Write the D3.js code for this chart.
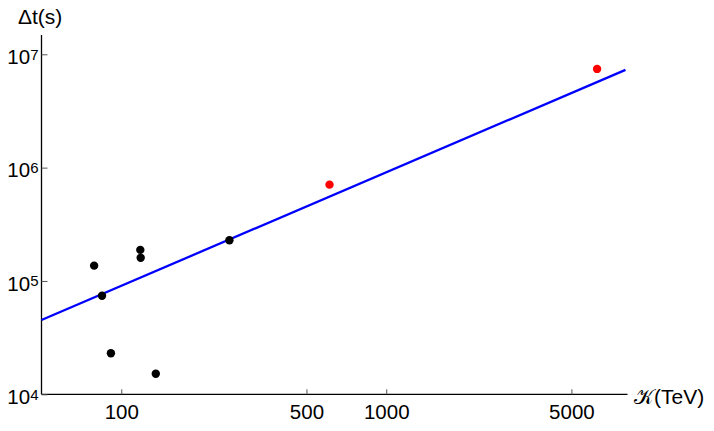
<!DOCTYPE html>
<html>
<head>
<meta charset="utf-8">
<script src="https://cdn.jsdelivr.net/npm/d3@7"></script>
<style>
  body { margin: 0; background: #fff; }
  text { font-family: "Liberation Sans", Arial, sans-serif; fill: #000; }
</style>
</head>
<body>
<div id="chart"></div>
<script>
// Data (K in TeV, delta t in seconds)
const blackK  = [79, 84.6, 91.4, 118, 118.4, 135, 256];
const blackDt = [1.365e5, 7.4e4, 2.3e4, 1.88e5, 1.6e5, 1.52e4, 2.29e5];
const redK    = [611, 6250];
const redDt   = [7.08e5, 7.43e6];
const fitK    = [50, 8000];
const fitDt   = [4.53e4, 7.28e6];
const xTicks  = [100, 500, 1000, 5000];
const yTicks  = [1e4, 1e5, 1e6, 1e7];

const width = 714, height = 431;

const svg = d3.select("#chart").append("svg")
    .attr("width", width)
    .attr("height", height)
    .style("background-color", "#fff");

// scales
const x = d3.scaleLog().domain([50, 8000]).range([41.5, 625.5]);
const y = d3.scaleLog().domain([1e4, 1.48e7]).range([394.3, 35]);

// x axis, ticks pointing up into the plot
const xAxis = svg.append("g")
    .attr("transform", `translate(0,${y(1e4)})`)
    .call(d3.axisBottom(x).tickValues(xTicks).tickSize(-5).tickPadding(10)
        .tickFormat(d3.format("d")));
xAxis.select(".domain").attr("d", `M${x(50)},0H${x(8000) + 2}`)
    .attr("stroke", "#000").attr("stroke-width", 1.3);
xAxis.selectAll(".tick line").attr("stroke", "#555");
xAxis.selectAll(".tick text").style("font-size", "20.5px")
    .style("font-family", "'Liberation Sans', Arial, sans-serif");

// y axis, ticks pointing right
const yAxis = svg.append("g")
    .attr("transform", `translate(${x(50)},0)`)
    .call(d3.axisLeft(y).tickValues(yTicks).tickSize(-6).tickPadding(3)
        .tickFormat(() => ""));
yAxis.select(".domain").attr("d", `M0,${y(1e4)}V35`)
    .attr("stroke", "#000").attr("stroke-width", 1.3);
yAxis.selectAll(".tick line").attr("stroke", "#555");
yAxis.selectAll(".tick text").each(function(d) {
    const t = d3.select(this)
        .attr("dy", "0.45em")
        .style("font-size", "20.5px")
        .style("font-family", "'Liberation Sans', Arial, sans-serif");
    t.append("tspan").text("10");
    t.append("tspan").attr("dy", "-0.3em").style("font-size", "15px")
        .text(Math.round(Math.log10(d)));
});

// axis titles
svg.append("text")
    .attr("x", 18).attr("y", 24)
    .style("font-size", "21px")
    .text("Δt(s)");

svg.append("text")
    .attr("x", 634).attr("y", 404)
    .style("font-size", "21px")
    .text("𝒦(TeV)");

// fitted line
const line = d3.line().x(d => x(d[0])).y(d => y(d[1]));
svg.append("path")
    .datum(d3.zip(fitK, fitDt))
    .attr("d", line)
    .attr("fill", "none")
    .attr("stroke", "#0000ff")
    .attr("stroke-width", 2.3);

// points
svg.append("g").selectAll("circle")
    .data(d3.zip(blackK, blackDt))
    .enter().append("circle")
    .attr("cx", d => x(d[0]))
    .attr("cy", d => y(d[1]))
    .attr("r", 4.2)
    .attr("fill", "#000");

svg.append("g").selectAll("circle")
    .data(d3.zip(redK, redDt))
    .enter().append("circle")
    .attr("cx", d => x(d[0]))
    .attr("cy", d => y(d[1]))
    .attr("r", 4.2)
    .attr("fill", "#ff0000");
</script>
</body>
</html>
